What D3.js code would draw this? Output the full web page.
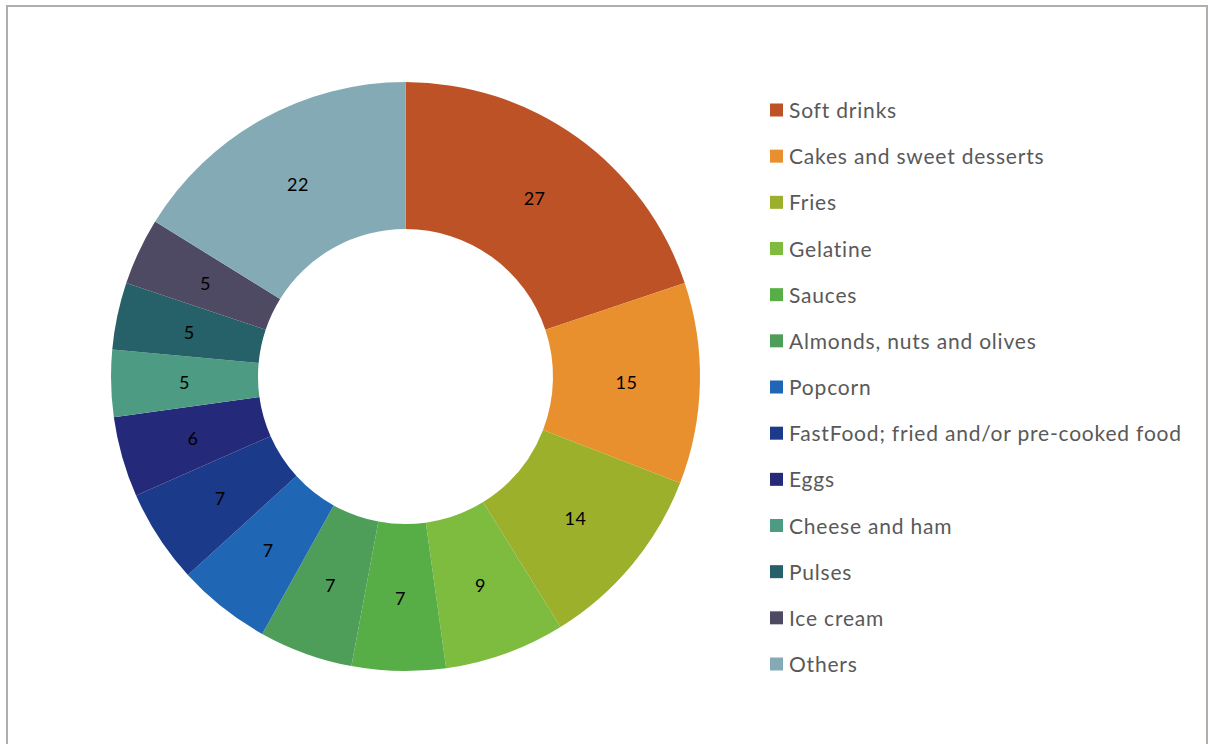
<!DOCTYPE html>
<html><head><meta charset="utf-8">
<script src="https://cdn.jsdelivr.net/npm/d3@7"></script>
<style>body{margin:0;background:#fff}svg{display:block}</style>
</head><body>
<svg id="c" width="1208" height="744"></svg>
<script>
const categories = ["Soft drinks","Cakes and sweet desserts","Fries","Gelatine","Sauces","Almonds, nuts and olives","Popcorn","FastFood; fried and/or pre-cooked food","Eggs","Cheese and ham","Pulses","Ice cream","Others"];
const values = [27,15,14,9,7,7,7,7,6,5,5,5,22];
const colors = ["#BE5227","#E8902E","#9CB02C","#7DBC3E","#57AE47","#4E9E5A","#1F66B5","#1C3A8A","#25297A","#4E9B84","#266068","#4F4A63","#84ABB5"];

const svg = d3.select("#c");
svg.append("rect").attr("x",7).attr("y",6).attr("width",1200).attr("height",760)
  .attr("fill","#fff").attr("stroke","#b0adad").attr("stroke-width",2);

const cx = 405.5, cy = 376.6, R = 294.5, r0 = 147.5;
const data = categories.map((c,i)=>({c, v:values[i], col:colors[i]}));
const pie = d3.pie().value(d=>d.v).sort(null);
const arc = d3.arc().innerRadius(r0).outerRadius(R);
const labelArc = d3.arc().innerRadius((R+r0)/2).outerRadius((R+r0)/2);
const g = svg.append("g").attr("transform",`translate(${cx},${cy})`);
const arcs = pie(data);
g.selectAll("path").data(arcs).join("path").attr("d",arc).attr("fill",d=>d.data.col);
g.selectAll("text").data(arcs).join("text")
  .attr("transform",d=>`translate(${labelArc.centroid(d)})`)
  .attr("text-anchor","middle").attr("dy","0.42em")
  .attr("font-family","Lato, 'Open Sans', sans-serif").attr("font-size",18).attr("fill","#000")
  .attr("letter-spacing","0.5px")
  .text(d=>d.data.v);

const leg = svg.append("g");
const y = d3.scalePoint().domain(categories).range([110.5,664.5]);
const items = leg.selectAll("g").data(data).join("g").attr("transform",d=>`translate(770,${y(d.c)})`);
items.append("rect").attr("x",0).attr("y",-7).attr("width",13).attr("height",13).attr("fill",d=>d.col);
items.append("text").attr("x",19).attr("dy","0.36em")
  .attr("font-family","Lato, 'Open Sans', sans-serif").attr("font-size",21).attr("fill","#595959")
  .attr("letter-spacing","0.8px")
  .text(d=>d.c);
</script>
</body></html>
